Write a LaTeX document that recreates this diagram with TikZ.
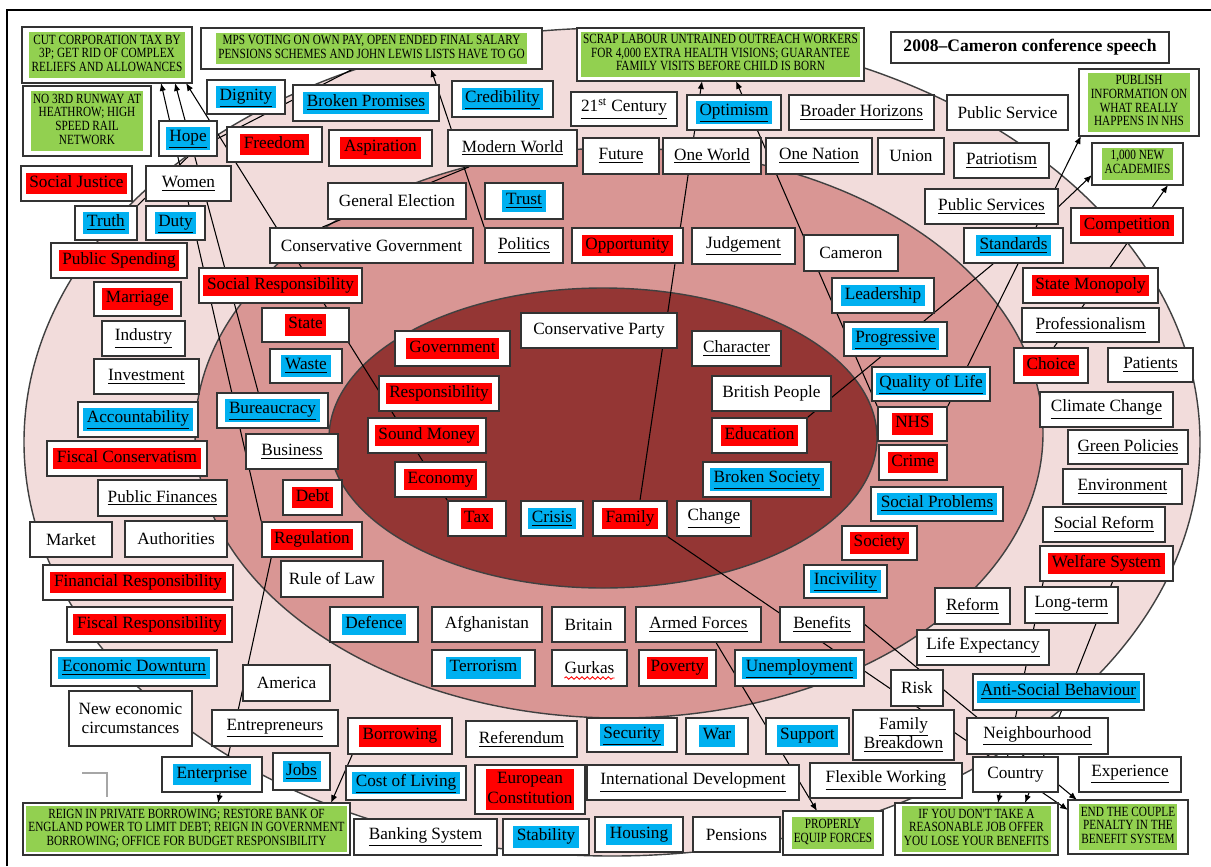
\documentclass[tikz,border=0pt]{standalone}
\usepackage{fontspec}
\setmainfont{Liberation Serif}
\newfontfamily\condfont{Liberation Serif}[FakeStretch=0.8]
\usetikzlibrary{calc,arrows.meta,decorations.pathmorphing}
\definecolor{hred}{HTML}{FF0000}
\definecolor{hcyan}{HTML}{00B0F0}
\definecolor{hgreen}{HTML}{92D050}
\definecolor{outerfill}{HTML}{F2DCDB}
\definecolor{midfill}{HTML}{D99694}
\definecolor{innerfill}{HTML}{943634}
\pgfdeclarelayer{bg}\pgfdeclarelayer{lines}\pgfsetlayers{bg,lines,main}
\newcommand\hlred[1]{{\fboxsep=0.6pt\colorbox{hred}{\strut\hspace{1.5pt}#1\hspace{1.5pt}}}}
\newcommand\hlcyan[1]{{\fboxsep=0.6pt\colorbox{hcyan}{\strut\hspace{1.5pt}#1\hspace{1.5pt}}}}
\newcommand\hlcyanu[1]{{\fboxsep=0.6pt\colorbox{hcyan}{\strut\hspace{1.5pt}\underline{#1}\hspace{1.5pt}}}}
\newcommand\ulx[1]{\underline{#1}}
\newcommand\hlgreen[1]{{\fboxsep=1.3pt\colorbox{hgreen}{\condfont\fontsize{8}{7.8}\selectfont\begin{tabular}{@{}c@{}}#1\end{tabular}}}}
\newcommand\bx[7][]{%
  \pgfmathsetmacro\bxw{(#5-#3)*0.02}%
  \pgfmathsetmacro\bxh{(#6-#4)*0.02}%
  \pgfmathsetmacro\bxx{(#3+#5)/2}%
  \pgfmathsetmacro\bxy{(#4+#6)/2}%
  \node[box,minimum width=\bxw cm,minimum height=\bxh cm,#1] (#2) at (\bxx,\bxy) {#7};}
\tikzset{
  box/.style={draw=black!80, fill=white, line width=0.9pt, inner sep=0pt, align=center,
    font=\fontsize{9.8}{11}\selectfont},
  conn/.style={draw=black, line width=0.6pt},
  arr/.style={conn, -{Latex[length=4.5pt,width=3.6pt]}},
  ring/.style={draw=black!75, line width=0.8pt}
}
\begin{document}
\begin{tikzpicture}[x=0.02cm,y=-0.02cm]
\useasboundingbox (0,0) rectangle (1211,866);
\begin{pgfonlayer}{bg}
\fill[white] (0,0) rectangle (1211,866);
\filldraw[ring, fill=outerfill] (612,442) ellipse [x radius=588, y radius=414];
\filldraw[ring, fill=midfill] (619,433) ellipse [x radius=424, y radius=285];
\filldraw[ring, fill=innerfill] (603,438) ellipse [x radius=274, y radius=150];
\end{pgfonlayer}

% green action boxes
\bx{g1}{22}{27}{192}{83}{\hlgreen{CUT CORPORATION TAX BY\\3P; GET RID OF COMPLEX\\RELIEFS AND ALLOWANCES}}
\bx{g2}{23}{86}{151}{156}{\hlgreen{NO 3RD RUNWAY AT\\HEATHROW; HIGH\\SPEED RAIL\\NETWORK}}
\bx{g3}{201}{28}{542}{69}{\hlgreen{MPS VOTING ON OWN PAY, OPEN ENDED FINAL SALARY\\PENSIONS SCHEMES AND JOHN LEWIS LISTS HAVE TO GO}}
\bx{g4}{577}{28}{864}{81}{\hlgreen{SCRAP LABOUR UNTRAINED OUTREACH WORKERS\\FOR 4,000 EXTRA HEALTH VISIONS; GUARANTEE\\FAMILY VISITS BEFORE CHILD IS BORN}}
\bx[font=\fontsize{10}{12}\selectfont\bfseries]{title}{891}{32}{1169}{63}{2008--Cameron conference speech}
\bx{g5}{1079}{69}{1199}{136}{\hlgreen{PUBLISH\\INFORMATION ON\\WHAT REALLY\\HAPPENS IN NHS}}
\bx{g6}{1092}{143}{1183}{185}{\hlgreen{1,000 NEW\\ACADEMIES}}
\bx{g7}{23}{803}{350}{855}{\hlgreen{REIGN IN PRIVATE BORROWING; RESTORE BANK OF\\ENGLAND POWER TO LIMIT DEBT; REIGN IN GOVERNMENT\\BORROWING; OFFICE FOR BUDGET RESPONSIBILITY}}
\bx{g10}{783}{811}{883}{855}{\hlgreen{PROPERLY\\EQUIP FORCES}}
\bx{g8}{895}{803}{1058}{855}{\hlgreen{IF YOU DON'T TAKE A\\REASONABLE JOB OFFER\\YOU LOSE YOUR BENEFITS}}
\bx{g9}{1068}{800}{1188}{854}{\hlgreen{END THE COUPLE\\PENALTY IN THE\\BENEFIT SYSTEM}}

% concept boxes
\bx{dignity}{207}{80}{285}{114}{\hlcyanu{Dignity}}
\bx{brokenpromises}{293}{85}{439}{121}{\hlcyanu{Broken Promises}}
\bx{credibility}{452}{81}{553}{117}{\hlcyanu{Credibility}}
\bx{century}{571}{92}{677}{126}{\ulx{21\textsuperscript{st} Century}}
\bx{optimism}{687}{95}{781}{130}{\hlcyanu{Optimism}}
\bx{horizons}{789}{95}{934}{130}{\ulx{Broader Horizons}}
\bx{publicservice}{947}{95}{1068}{130}{Public Service}
\bx{hope}{159}{121}{217}{156}{\hlcyanu{Hope}}
\bx{freedom}{227}{127}{322}{162}{\hlred{Freedom}}
\bx{aspiration}{329}{130}{432}{166}{\hlred{Aspiration}}
\bx{modernworld}{448}{130}{577}{166}{\ulx{Modern World}}
\bx{future}{583}{138}{659}{174}{\ulx{Future}}
\bx{oneworld}{663}{138}{761}{174}{\ulx{One World}}
\bx{onenation}{766}{138}{872}{174}{\ulx{One Nation}}
\bx{union}{878}{138}{944}{174}{Union}
\bx{patriotism}{954}{143}{1049}{178}{\ulx{Patriotism}}
\bx{socialjustice}{21}{166}{132}{201}{\hlred{Social Justice}}
\bx{women}{146}{166}{231}{201}{\ulx{Women}}
\bx{generalelection}{328}{183}{466}{219}{General Election}
\bx{trust}{485}{183}{563}{219}{\hlcyanu{Trust}}
\bx{publicservices}{925}{189}{1058}{224}{\ulx{Public Services}}
\bx{competition}{1071}{208}{1183}{243}{\hlred{Competition}}
\bx{truth}{75}{206}{137}{240}{\hlcyanu{Truth}}
\bx{duty}{146}{206}{205}{240}{\hlcyanu{Duty}}
\bx{cg}{270}{228}{473}{263}{Conservative Government}
\bx{politics}{485}{228}{563}{263}{\ulx{Politics}}
\bx{opportunity}{572}{228}{683}{263}{\hlred{Opportunity}}
\bx{judgement}{692}{228}{795}{264}{\ulx{Judgement}}
\bx{cameron}{804}{235}{898}{271}{Cameron}
\bx{standards}{964}{228}{1063}{263}{\hlcyanu{Standards}}
\bx{publicspending}{51}{243}{187}{278}{\hlred{Public Spending}}
\bx{socialresp}{199}{268}{362}{303}{\hlred{Social Responsibility}}
\bx{statemonopoly}{1023}{268}{1158}{303}{\hlred{State Monopoly}}
\bx{leadership}{832}{278}{934}{313}{\hlcyan{Leadership}}
\bx{marriage}{94}{282}{181}{316}{\hlred{Marriage}}
\bx{state}{262}{308}{349}{342}{\hlred{State}}
\bx{professionalism}{1022}{308}{1159}{342}{\ulx{Professionalism}}
\bx{cp}{521}{313}{677}{348}{Conservative Party}
\bx{industry}{102}{321}{185}{356}{\ulx{Industry}}
\bx{government}{395}{331}{510}{366}{\hlred{Government}}
\bx{character}{692}{331}{781}{366}{\ulx{Character}}
\bx{progressive}{844}{322}{947}{356}{\hlcyanu{Progressive}}
\bx{waste}{270}{349}{342}{383}{\hlcyanu{Waste}}
\bx{choice}{1014}{348}{1088}{383}{\hlred{Choice}}
\bx{patients}{1108}{348}{1193}{382}{\ulx{Patients}}
\bx{investment}{94}{359}{199}{394}{\ulx{Investment}}
\bx{quality}{872}{367}{990}{401}{\hlcyanu{Quality of Life}}
\bx{responsibility}{379}{376}{499}{411}{\hlred{Responsibility}}
\bx{britishpeople}{712}{376}{831}{411}{British People}
\bx{climate}{1040}{392}{1173}{427}{\ulx{Climate Change}}
\bx{bureaucracy}{217}{393}{328}{428}{\hlcyanu{Bureaucracy}}
\bx{accountability}{78}{402}{198}{437}{\hlcyanu{Accountability}}
\bx{nhs}{878}{407}{947}{441}{\hlred{NHS}}
\bx{soundmoney}{368}{418}{486}{453}{\hlred{Sound Money}}
\bx{education}{712}{418}{807}{453}{\hlred{Education}}
\bx{greenpol}{1068}{430}{1188}{464}{\ulx{Green Policies}}
\bx{business}{246}{434}{338}{469}{\ulx{Business}}
\bx{fiscalcons}{47}{441}{207}{476}{\hlred{Fiscal Conservatism}}
\bx{crime}{879}{445}{947}{480}{\hlred{Crime}}
\bx{economy}{395}{462}{486}{497}{\hlred{Economy}}
\bx{brokensociety}{703}{462}{831}{497}{\hlcyanu{Broken Society}}
\bx{environment}{1063}{469}{1182}{504}{\ulx{Environment}}
\bx{publicfinances}{98}{480}{227}{516}{\ulx{Public Finances}}
\bx{debt}{283}{480}{342}{515}{\hlred{Debt}}
\bx{socialproblems}{871}{487}{1003}{521}{\hlcyanu{Social Problems}}
\bx{tax}{448}{501}{506}{536}{\hlred{Tax}}
\bx{crisis}{521}{501}{583}{536}{\hlcyanu{Crisis}}
\bx{family}{593}{501}{667}{536}{\hlred{Family}}
\bx{change}{677}{501}{751}{536}{\ulx{Change}}
\bx{socialreform}{1043}{507}{1165}{542}{\ulx{Social Reform}}
\bx{market}{30}{522}{112}{557}{Market}
\bx{authorities}{125}{521}{227}{557}{Authorities}
\bx{regulation}{262}{522}{362}{557}{\hlred{Regulation}}
\bx{society}{842}{526}{917}{560}{\hlred{Society}}
\bx{welfare}{1040}{546}{1173}{581}{\hlred{Welfare System}}
\bx{ruleoflaw}{281}{561}{383}{597}{Rule of Law}
\bx{incivility}{804}{565}{887}{598}{\hlcyanu{Incivility}}
\bx{financialresp}{43}{565}{233}{600}{\hlred{Financial Responsibility}}
\bx{reform}{935}{588}{1010}{624}{\ulx{Reform}}
\bx{longterm}{1025}{587}{1118}{623}{\ulx{Long-term}}
\bx{fiscalresp}{67}{607}{232}{642}{\hlred{Fiscal Responsibility}}
\bx{defence}{330}{607}{418}{642}{\hlcyan{Defence}}
\bx{afghanistan}{432}{607}{542}{642}{Afghanistan}
\bx{britain}{552}{607}{625}{642}{Britain}
\bx{armedforces}{636}{607}{761}{642}{\ulx{Armed Forces}}
\bx{benefits}{780}{607}{864}{642}{\ulx{Benefits}}
\bx{lifeexp}{917}{630}{1049}{665}{\ulx{Life Expectancy}}
\bx{econdown}{51}{650}{217}{686}{\hlcyanu{Economic Downturn}}
\bx{terrorism}{432}{650}{535}{686}{\hlcyan{Terrorism}}
\bx{gurkas}{552}{650}{627}{686}{Gurkas}
\bx{poverty}{639}{650}{716}{686}{\hlred{Poverty}}
\bx{unemployment}{735}{650}{864}{686}{\hlcyanu{Unemployment}}
\bx{america}{243}{665}{330}{701}{America}
\bx{risk}{891}{670}{943}{706}{Risk}
\bx{asb}{973}{674}{1144}{710}{\hlcyanu{Anti-Social Behaviour}}
\bx{nec}{69}{691}{192}{746}{New economic\\circumstances}
\bx{entrepreneurs}{212}{710}{338}{746}{\ulx{Entrepreneurs}}
\bx{borrowing}{348}{718}{452}{754}{\hlred{Borrowing}}
\bx{referendum}{466}{721}{577}{757}{\ulx{Referendum}}
\bx{security}{587}{718}{677}{752}{\hlcyanu{Security}}
\bx{war}{686}{718}{748}{754}{\hlcyan{War}}
\bx{support}{766}{718}{849}{754}{\hlcyan{Support}}
\bx{familybreakdown}{853}{710}{954}{760}{\ulx{Family}\\\ulx{Breakdown}}
\bx{neighbourhood}{967}{718}{1108}{754}{\ulx{Neighbourhood}}
\bx{enterprise}{162}{757}{262}{792}{\hlcyan{Enterprise}}
\bx{jobs}{273}{753}{330}{790}{\hlcyanu{Jobs}}
\bx{costofliving}{346}{766}{466}{800}{\hlcyanu{Cost of Living}}
\bx{european}{475}{765}{585}{814}{{\fboxsep=0.6pt\colorbox{hred}{\begin{tabular}{@{}c@{}}European\\Constitution\end{tabular}}}}
\bx{intdev}{587}{765}{799}{800}{\ulx{International Development}}
\bx{flexible}{810}{763}{962}{798}{\ulx{Flexible Working}}
\bx{country}{973}{757}{1058}{792}{Country}
\bx{experience}{1079}{757}{1181}{792}{\ulx{Experience}}
\bx{banking}{354}{819}{497}{855}{\ulx{Banking System}}
\bx{stability}{503}{819}{589}{855}{\hlcyan{Stability}}
\bx{housing}{595}{817}{683}{852}{\hlcyan{Housing}}
\bx{pensions}{693}{817}{780}{852}{Pensions}

% red wavy mark under Gurkas
\draw[hred, line width=0.5pt, decorate, decoration={snake, amplitude=0.7pt, segment length=3pt}]
  ($(gurkas.center)+(-25,10)$) -- ($(gurkas.center)+(25,10)$);

% arrow targets on the action boxes
\coordinate (g1a) at (161,83);
\coordinate (g1b) at (175,83);
\coordinate (g1c) at (186,83);
\coordinate (g3a) at (431,69);
\coordinate (g3h) at (353,69);
\coordinate (g4a) at (702,81);
\coordinate (g4b) at (736,81);
\coordinate (g5a) at (1081,136);
\coordinate (g6a) at (1092,175);
\coordinate (g6b) at (1168,185);
\coordinate (g7a) at (218,803);
\coordinate (g7b) at (331,803);
\coordinate (g8a) at (998,803);
\coordinate (g8b) at (1025,803);
\coordinate (g9a) at (1068,810);
\coordinate (g9b) at (1077,800);
\coordinate (g10a) at (817,811);

\begin{pgfonlayer}{lines}
\draw[arr] (regulation.north west) -- (g1a);
\draw[arr] ($(bureaucracy.north west)+(42,0)$) -- (g1b);
\draw[arr] (tax.north west) -- (g1c);
\draw[arr] (politics.north west) -- (g3a);
\draw[conn] (hope.east) -- (g3h);
\draw[conn] (hope.south) -- (truth.north east);
\draw[conn] ($(cg.north west)+(53,0)$) -- ($(modernworld.south west)+(22,0)$);
\draw[arr] ($(family.north)+(10,0)$) -- (g4a);
\draw[arr] (nhs.north west) -- (g4b);
\draw[conn] ($(standards.south west)+(30,0)$) -- (education.north east);
\draw[arr] (nhs.north east) -- (g5a);
\draw[arr] (publicservices.east) -- (g6a);
\draw[arr] ($(choice.north)+(3,0)$) -- (g6b);
\draw[arr] (family.south east) -- (g9a);
\draw[arr] (benefits.east) -- (g9b);
\draw[arr] ($(welfare.south west)+(4,0)$) -- (g8a);
\draw[arr] ($(welfare.south)+(6,0)$) -- (g8b);
\draw[arr] ($(armedforces.south west)+(81,0)$) -- (g10a);
\draw[arr] ($(borrowing.south west)+(5,0)$) -- (g7b);
\draw[arr] ($(regulation.south west)+(10,0)$) -- (g7a);
\end{pgfonlayer}

% small grey corner mark
\draw[black!35, line width=0.8pt] (82,773) -- (107,773) -- (107,797);

% outer frame
\draw[black, line width=1.6pt] (7,866) -- (7,10) -- (1211,10);
\end{tikzpicture}
\end{document}
